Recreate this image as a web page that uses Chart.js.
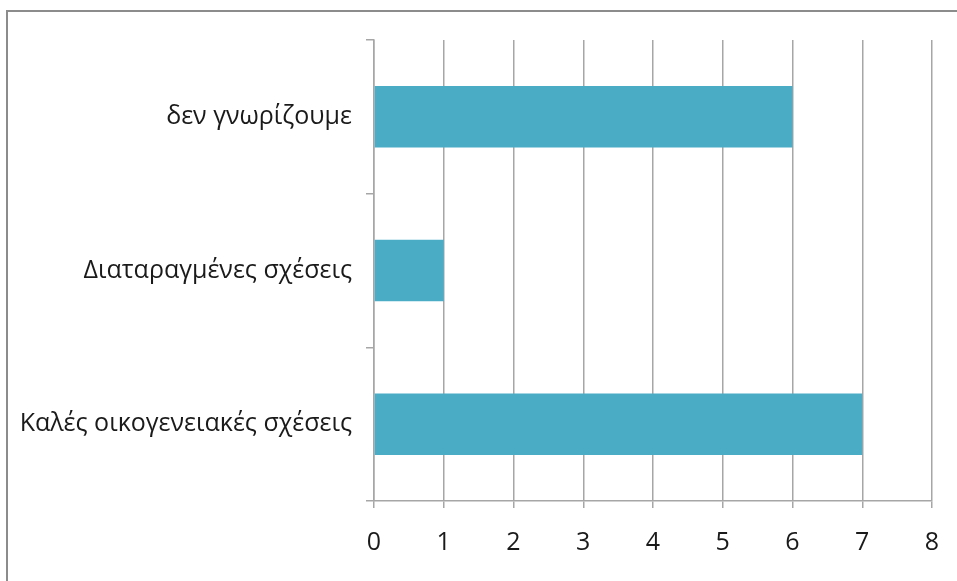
<!DOCTYPE html>
<html>
<head>
<meta charset="utf-8">
<script src="https://cdn.jsdelivr.net/npm/chart.js@4/dist/chart.umd.min.js"></script>
<style>
  html, body { margin: 0; padding: 0; background: #fff; overflow: hidden; }
  #frame { position: absolute; left: 6px; top: 10px; width: 970px; height: 590px;
           border-left: 2px solid #8c8c8c; border-top: 2px solid #8c8c8c; }
  #wrap { position: absolute; left: 0; top: 0; width: 957px; height: 581px; }
</style>
</head>
<body>
<div id="frame"></div>
<div id="wrap"><canvas id="chart" width="957" height="581"></canvas></div>
<script>
// categories, top to bottom as shown
const categories = ['δεν γνωρίζουμε', 'Διαταραγμένες σχέσεις', 'Καλές οικογενειακές σχέσεις'];
const values = [6, 1, 7];
const xTicks = [0, 1, 2, 3, 4, 5, 6, 7, 8];

const gridGrey = '#a6a6a6';

const ctx = document.getElementById('chart').getContext('2d');
new Chart(ctx, {
  type: 'bar',
  data: {
    labels: categories,
    datasets: [{
      data: values,
      backgroundColor: '#4bacc6',
      borderWidth: 0,
      categoryPercentage: 1,
      barPercentage: 0.4
    }]
  },
  options: {
    indexAxis: 'y',
    responsive: false,
    animation: false,
    layout: { padding: { top: 40, right: 25, left: 0, bottom: 0 } },
    plugins: { legend: { display: false }, tooltip: { enabled: false } },
    scales: {
      x: {
        min: 0, max: 8,
        afterBuildTicks: s => { s.ticks = xTicks.map(v => ({ value: v })); },
        ticks: { color: '#1a1a1a', font: { family: 'Open Sans', size: 25 }, padding: 20 },
        grid: { color: gridGrey, lineWidth: 1.5, tickLength: 7 },
        border: { color: gridGrey, width: 1.5 },
        afterFit: s => { s.height = 80; s.paddingRight = 0; s.paddingLeft = 0; }
      },
      y: {
        ticks: { color: '#1a1a1a', font: { family: 'Open Sans', size: 25 }, padding: 14 },
        grid: { drawOnChartArea: false, color: gridGrey, lineWidth: 1.5, tickLength: 8 },
        border: { color: gridGrey, width: 1.5 },
        afterFit: s => { s.width = 374; }
      }
    }
  }
});
</script>
</body>
</html>
